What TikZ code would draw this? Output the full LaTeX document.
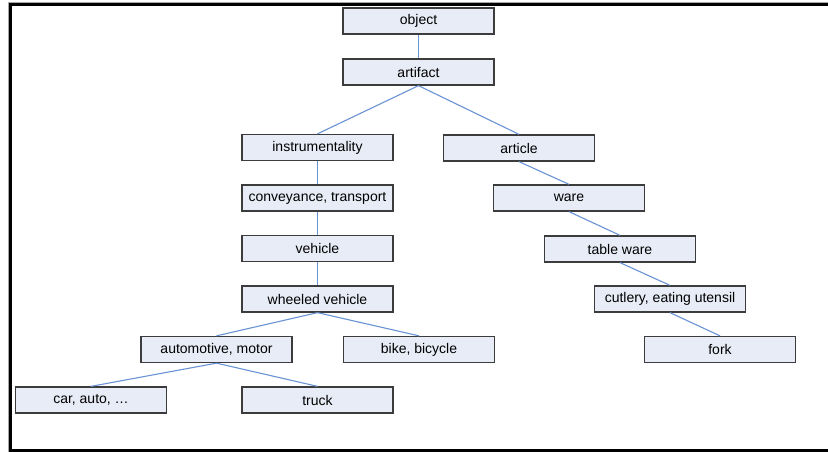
\documentclass[tikz,border=0pt]{standalone}
\usepackage{fontspec}
\setmainfont{Liberation Sans}
\definecolor{boxfill}{HTML}{E8ECF6}
\definecolor{boxline}{HTML}{3C3C3C}
\definecolor{linkblue}{HTML}{6A93D4}
\begin{document}
\begin{tikzpicture}[x=1pt,y=-1pt,
  tbox/.style={draw=boxline,fill=boxfill,line width=1.3pt,minimum width=151pt,minimum height=26pt,inner sep=0pt,
    font=\fontsize{14}{16}\selectfont},
  link/.style={draw=linkblue,line width=1.1pt}]
\useasboundingbox (0,0) rectangle (828,452);
\fill[white] (0,0) rectangle (828,452);
\draw[line width=3pt,black] (828,4.5) -- (10.5,4.5) -- (10.5,450.5) -- (828,450.5);
\draw[line width=0.8pt,gray!70] (828,2.6) -- (8.6,2.6) -- (8.6,451.8);

\node[tbox] (object) at (418.5,21) {object};
\node[tbox] (artifact) at (418.5,72) {artifact};
\node[tbox] (instr) at (317.5,147.5) {instrumentality};
\node[tbox] (article) at (519,148) {article};
\node[tbox] (convey) at (317.5,198) {conveyance, transport};
\node[tbox] (vehicle) at (317.5,248.5) {vehicle};
\node[tbox] (wheeled) at (317.5,299) {wheeled vehicle};
\node[tbox] (auto) at (216.5,349.5) {automotive, motor};
\node[tbox] (bike) at (419,349.5) {bike, bicycle};
\node[tbox] (car) at (91,400) {car, auto, \dots};
\node[tbox] (truck) at (317.5,400) {truck};
\node[tbox] (ware) at (569,198) {ware};
\node[tbox] (tableware) at (620,249) {table ware};
\node[tbox] (cutlery) at (670,299) {cutlery, eating utensil};
\node[tbox] (fork) at (720,349.5) {fork};

\foreach \a/\b in {object/artifact, artifact/instr, artifact/article, instr/convey, convey/vehicle,
  vehicle/wheeled, wheeled/auto, wheeled/bike, auto/car, auto/truck, article/ware, ware/tableware,
  tableware/cutlery, cutlery/fork}
  \draw[link] (\a.south) -- (\b.north);
\end{tikzpicture}
\end{document}
